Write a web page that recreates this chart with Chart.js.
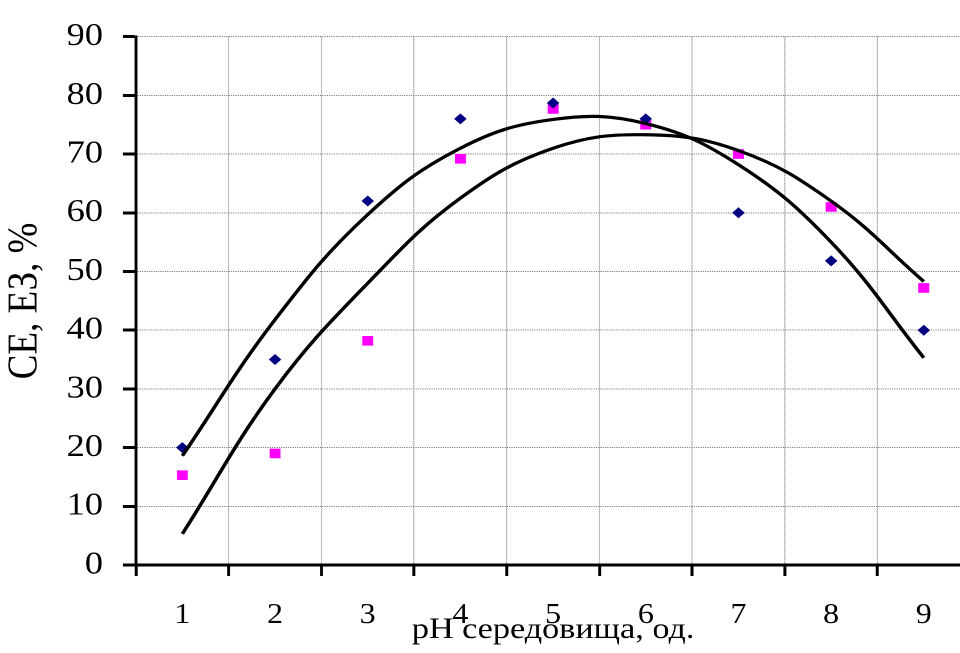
<!DOCTYPE html>
<html>
<head>
<meta charset="utf-8">
<script src="https://cdn.jsdelivr.net/npm/chart.js@4"></script>
<style>
    html, body { margin: 0; padding: 0; background: #fff; overflow: hidden; width: 960px; height: 653px; }
    /* the source picture is a little wider than tall, so stretch the canvas sideways */
    #wrap { width: 851px; height: 653px; transform: scaleX(1.14); transform-origin: 0 0; }
</style>
</head>
<body>
<div id="wrap"><canvas id="phChart" width="851" height="653"></canvas></div>
<script>
const phLabels = [1, 2, 3, 4, 5, 6, 7, 8, 9];
const ceValues = [20, 35, 62, 76, 78.7, 76, 60, 51.8, 40];
const ezValues = [15.3, 19, 38.2, 69.2, 77.7, 75, 70, 61, 47.2];
// trend curves at each pH
const ceTrend = [18.6, 41.8, 59.7, 71.0, 75.9, 75.2, 68.2, 55.0, 35.3];
const ezTrend = [5.3, 30.0, 48.0, 62.5, 71.0, 73.3, 70.6, 62.0, 48.3];
const yMin = 0, yMax = 90, yStep = 10;

const serif = "'Liberation Serif', 'Times New Roman', serif";
const dotted = '#7a7a7a';
const none = 'rgba(0,0,0,0)';

function toPoints(values) {
    return phLabels.map((x, i) => ({ x: x, y: values[i] }));
}

// only the half-steps between the pH values carry grid lines and tick marks
const isBetween = c => c.tick && !Number.isInteger(c.tick.value);

function drawPhChart() {
    const ctx = document.getElementById('phChart');
    new Chart(ctx, {
        type: 'line',
        data: {
            datasets: [
                { data: toPoints(ceTrend), borderColor: '#000', borderWidth: 3.2, pointRadius: 0, tension: 0.4, fill: false },
                { data: toPoints(ezTrend), borderColor: '#000', borderWidth: 3.2, pointRadius: 0, tension: 0.4, fill: false },
                { data: toPoints(ceValues), showLine: false, pointStyle: 'rectRot', pointRadius: 5.5, borderWidth: 0, backgroundColor: '#000080', borderColor: '#000080' },
                { data: toPoints(ezValues), showLine: false, pointStyle: 'rect', pointRadius: 6.8, borderWidth: 0, backgroundColor: '#ff00ff', borderColor: '#ff00ff' }
            ]
        },
        options: {
            responsive: false,
            animation: false,
            devicePixelRatio: 2,
            layout: { autoPadding: false, padding: { top: 25, right: 0, bottom: 0, left: 0 } },
            plugins: { legend: { display: false }, tooltip: { enabled: false } },
            scales: {
                x: {
                    type: 'linear',
                    min: 0.5,
                    max: 9.5,
                    afterFit: axis => {
                        axis.height = 88;
                        // the plot runs off the right edge in the source
                        axis.paddingRight = 0;
                        axis.paddingLeft = 0;
                    },
                    ticks: {
                        stepSize: 0.5,
                        autoSkip: false,
                        maxRotation: 0,
                        padding: 23,
                        color: '#000',
                        font: { family: serif, size: 28 },
                        callback: v => Number.isInteger(v) ? String(v) : ''
                    },
                    grid: {
                        color: c => isBetween(c) ? dotted : none,
                        tickColor: c => isBetween(c) ? '#000' : none,
                        lineWidth: 1,
                        tickWidth: 2.6,
                        tickLength: 11
                    },
                    border: { color: '#000', width: 3, dash: [1, 1] },
                    title: {
                        display: true,
                        text: 'pH середовища, од.',
                        color: '#000',
                        font: { family: serif, size: 30 },
                        padding: { top: 0, bottom: 5 }
                    }
                },
                y: {
                    min: yMin,
                    max: yMax,
                    afterFit: axis => { axis.width = 119.3; },
                    ticks: {
                        stepSize: yStep,
                        padding: 17.5,
                        color: '#000',
                        font: { family: serif, size: 32 }
                    },
                    grid: { color: dotted, lineWidth: 1, tickColor: '#000', tickWidth: 3, tickLength: 11.4 },
                    border: { color: '#000', width: 2.6, dash: [1, 1] },
                    title: {
                        display: true,
                        text: 'СЕ, ЕЗ, %',
                        color: '#000',
                        font: { family: serif, size: 37 },
                        padding: { top: 0, bottom: 0 }
                    }
                }
            }
        }
    });
}

drawPhChart();
</script>
</body>
</html>
